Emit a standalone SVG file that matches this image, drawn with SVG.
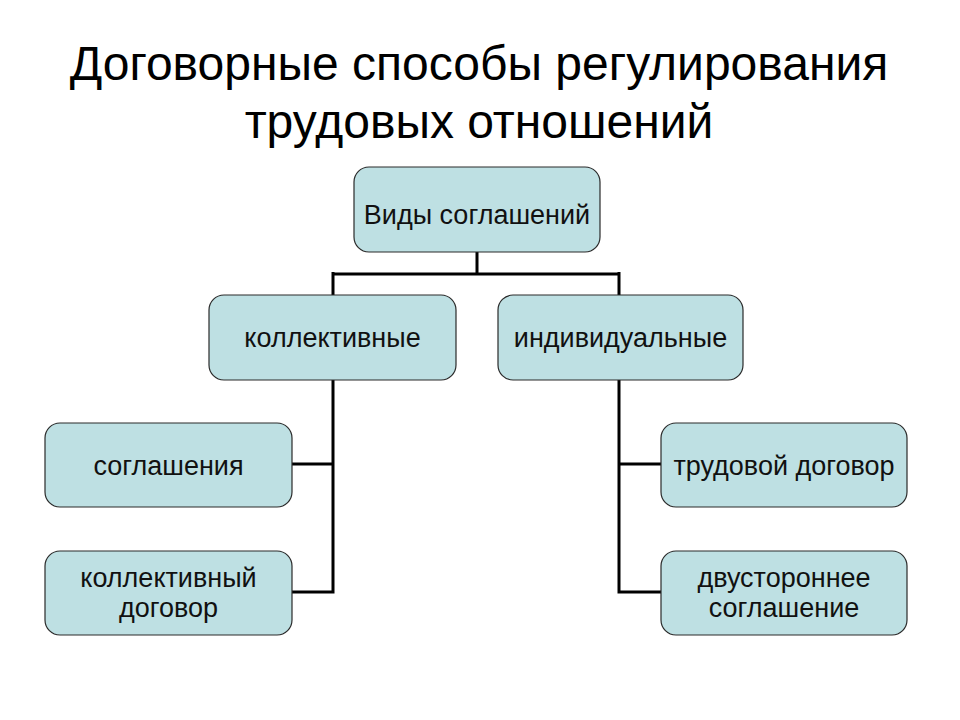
<svg xmlns="http://www.w3.org/2000/svg" width="960" height="720" viewBox="0 0 960 720">
<style>
.box{fill:#bee0e3;stroke:#2a2a2a;stroke-width:1.2}
.t{font-family:"Liberation Sans",Arial,sans-serif;font-size:27px;fill:#111;text-anchor:middle}
.title{font-family:"Liberation Sans",Arial,sans-serif;font-size:48px;fill:#000;text-anchor:middle}
.c{fill:none;stroke:#000;stroke-width:3}
</style>
<rect width="960" height="720" fill="#fff"/>
<text class="title" x="479" y="80">Договорные способы регулирования</text>
<text class="title" x="479" y="138">трудовых отношений</text>
<g id="connectors">
<path class="c" d="M477 252V274M333 274H619M333 272V295M619 272V295"/>
<path class="c" d="M333 380V592H292M333 464H292"/>
<path class="c" d="M619 380V592H661M619 464H661"/>
</g>
<g id="n-root"><rect class="box" x="354" y="167" width="246" height="85" rx="15"/><text class="t" x="477" y="224">Виды соглашений</text></g>
<g id="n-coll"><rect class="box" x="209" y="295" width="247" height="85" rx="15"/><text class="t" x="332.5" y="347">коллективные</text></g>
<g id="n-ind"><rect class="box" x="498" y="295" width="245" height="85" rx="15"/><text class="t" x="620.5" y="347">индивидуальные</text></g>
<g id="n-sogl"><rect class="box" x="45" y="423" width="247" height="84" rx="15"/><text class="t" x="168.5" y="475">соглашения</text></g>
<g id="n-kdog"><rect class="box" x="45" y="551" width="247" height="84" rx="15"/><text class="t" x="168.5" y="587">коллективный</text><text class="t" x="168.5" y="617">договор</text></g>
<g id="n-tdog"><rect class="box" x="661" y="423" width="246" height="84" rx="15"/><text class="t" x="784" y="475">трудовой договор</text></g>
<g id="n-dvus"><rect class="box" x="661" y="551" width="246" height="84" rx="15"/><text class="t" x="784" y="587">двустороннее</text><text class="t" x="784" y="617">соглашение</text></g>
</svg>
